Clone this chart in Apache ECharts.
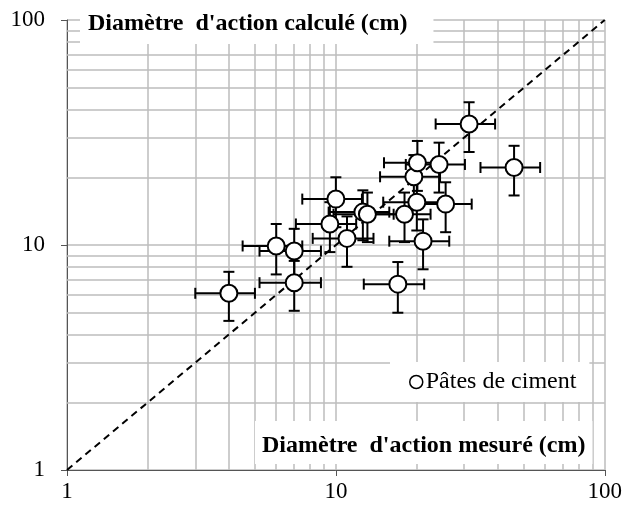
<!DOCTYPE html>
<html><head><meta charset="utf-8">
<script src="https://cdn.jsdelivr.net/npm/echarts@6/dist/echarts.min.js"></script>
<style>html,body{margin:0;padding:0;background:#fff}#c{width:625px;height:508px}</style>
</head><body><div id="c"></div>
<script>
const seriesName = 'Pâtes de ciment';
const measured = [4.0, 6.0, 7.0, 7.0, 9.5, 10.0, 11.0, 12.6, 13.1, 17.0, 18.0, 19.5, 20.0, 20.1, 21.1, 24.2, 25.6, 31.3, 46.0];
const calculated = [6.1, 9.9, 9.4, 6.8, 12.4, 16.0, 10.7, 14.0, 13.7, 6.7, 13.7, 20.1, 15.5, 23.2, 10.4, 22.8, 15.2, 34.5, 22.1];
const measuredErr = [1.0, 1.5, 1.8, 1.8, 2.4, 2.5, 2.8, 3.2, 3.3, 4.3, 4.5, 4.9, 5.0, 5.0, 5.3, 6.0, 6.4, 7.8, 11.5];
const calculatedErr = [1.5, 2.5, 2.4, 1.7, 3.1, 4.0, 2.7, 3.5, 3.4, 1.7, 3.4, 5.0, 3.9, 5.8, 2.6, 5.7, 3.8, 8.6, 5.5];
const identityLine = [1, 100];
const minorGridValues = [2, 3, 4, 5, 6, 7, 8, 9, 20, 30, 40, 50, 60, 70, 80, 90];
const xTitle = "Diamètre  d'action mesuré (cm)";
const yTitle = "Diamètre  d'action calculé (cm)";

const FONT = 'Liberation Serif';
const GRID_COLOR = '#bdbdbd';

const points = measured.map((x, i) => [x, calculated[i]]);
const errData = measured.map((x, i) => [x, calculated[i], measuredErr[i], calculatedErr[i]]);
const diagData = identityLine.map(v => [v, v]);

const minorMarks = [];
minorGridValues.forEach(v => { minorMarks.push({ xAxis: v }); minorMarks.push({ yAxis: v }); });

const chart = echarts.init(document.getElementById('c'), null, { renderer: 'canvas' });

const CAP = 5.5;
function renderErr(params, api) {
  const x = api.value(0), y = api.value(1), ex = api.value(2), ey = api.value(3);
  const l = api.coord([x - ex, y]);
  const r = api.coord([x + ex, y]);
  const t = api.coord([x, y + ey]);
  const b = api.coord([x, y - ey]);
  const st = { stroke: '#000', lineWidth: 2 };
  const line = (x1, y1, x2, y2) => ({ type: 'line', shape: { x1, y1, x2, y2 }, style: st });
  return {
    type: 'group',
    children: [
      line(l[0], l[1], r[0], r[1]),
      line(t[0], t[1], b[0], b[1]),
      line(l[0], l[1] - CAP, l[0], l[1] + CAP),
      line(r[0], r[1] - CAP, r[0], r[1] + CAP),
      line(t[0] - CAP, t[1], t[0] + CAP, t[1]),
      line(b[0] - CAP, b[1], b[0] + CAP, b[1])
    ]
  };
}

const axisCommon = {
  type: 'log',
  logBase: 10,
  min: 1,
  max: 100,
  axisLine: { show: true, lineStyle: { color: '#555', width: 1 } },
  axisTick: { show: true, inside: false, length: 6, lineStyle: { color: '#555', width: 1 } },
  splitLine: { show: true, lineStyle: { color: GRID_COLOR, width: 1.5 } },
  axisLabel: { color: '#000', fontFamily: FONT, fontSize: 23 }
};

chart.setOption({
  animation: false,
  backgroundColor: '#fff',
  grid: { left: 67, right: 20, top: 20, bottom: 38, containLabel: false },
  title: [
    {
      text: yTitle, left: 80, top: 7, z: 8,
      backgroundColor: '#fff', padding: [5, 26, 8, 8],
      textStyle: { fontFamily: FONT, fontWeight: 'bold', fontSize: 24, color: '#000' }
    },
    {
      text: xTitle, left: 255, top: 421, z: 8,
      backgroundColor: '#fff', padding: [13, 7, 6, 7],
      textStyle: { fontFamily: FONT, fontWeight: 'bold', fontSize: 24, color: '#000' }
    }
  ],
  legend: {
    data: [seriesName], left: 390, top: 362, z: 8,
    backgroundColor: '#fff', padding: [8, 13, 8, 19],
    itemWidth: 13, itemHeight: 13, icon: 'circle',
    itemStyle: { color: '#fff', borderColor: '#000', borderWidth: 1.5 },
    textStyle: { fontFamily: FONT, fontSize: 24, color: '#000', padding: [0, 0, 0, -2] }
  },
  xAxis: Object.assign({}, axisCommon, { axisLabel: Object.assign({}, axisCommon.axisLabel, { margin: 10 }) }),
  yAxis: Object.assign({}, axisCommon, { axisLabel: Object.assign({}, axisCommon.axisLabel, { margin: 22 }) }),
  series: [
    {
      name: 'minorGrid', type: 'line', data: [], silent: true, z: 1,
      markLine: {
        z: 1,
        silent: true, symbol: ['none', 'none'], animation: false,
        label: { show: false },
        lineStyle: { color: GRID_COLOR, width: 1.5, type: 'solid' },
        emphasis: { disabled: true },
        data: minorMarks
      }
    },
    {
      name: 'identity', type: 'line', data: diagData, symbol: 'none', silent: true, z: 2,
      lineStyle: { color: '#000', width: 2, type: [7, 5] }
    },
    {
      name: 'errors', type: 'custom', data: errData, renderItem: renderErr, silent: true, z: 3,
      encode: { x: 0, y: 1 }
    },
    {
      name: seriesName, type: 'scatter', data: points, symbol: 'circle', symbolSize: 17, z: 4,
      itemStyle: { color: '#fff', borderColor: '#000', borderWidth: 2, opacity: 1 }
    }
  ]
});
</script></body></html>
